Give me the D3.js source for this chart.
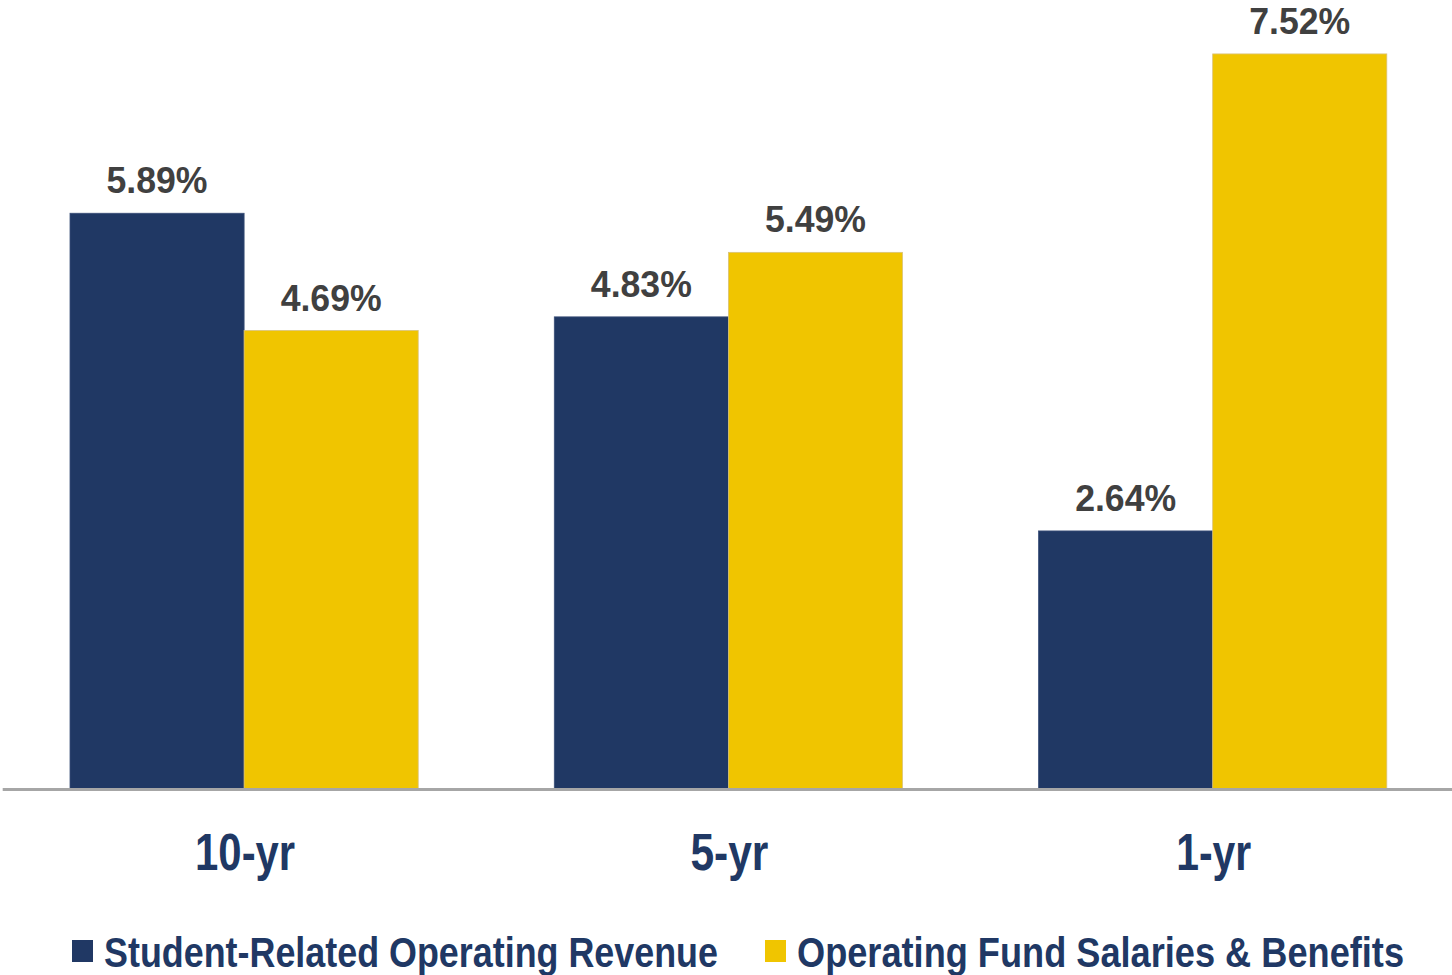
<!DOCTYPE html>
<html>
<head>
<meta charset="utf-8">
<script src="https://cdn.jsdelivr.net/npm/d3@7"></script>
<style>
  body { margin: 0; background: #fff; }
  svg { display: block; }
</style>
</head>
<body>
<div id="plot"></div>
<script>
let periods = ['10-yr', '5-yr', '1-yr'];
let seriesNames = ['Student-Related Operating Revenue', 'Operating Fund Salaries & Benefits'];
let revenue = [5.89, 4.83, 2.64];
let salaries = [4.69, 5.49, 7.52];

let data = periods.map((p, i) => ({period: p, values: [revenue[i], salaries[i]]}));

let svgWidth = 1452;
let svgHeight = 975;
let svg = d3.select('#plot')
            .append('svg')
                .attr('width', svgWidth)
                .attr('height', svgHeight);

let x = d3.scaleBand()
            .domain(periods)
            .range([2.2, 1454.6])
            .paddingInner(0.281)
            .paddingOuter(0.14);

let xSub = d3.scaleBand()
            .domain(seriesNames)
            .range([0, x.bandwidth()]);

let y = d3.scaleLinear()
            .domain([0, 8])
            .range([789, 7]);

let color = d3.scaleOrdinal()
    .domain(seriesNames)
    .range(['#203864', '#f0c500']);

// no condensed font installed: squeeze text to the width it has in the original
function squeeze(sel, widthOf) {
    sel.attr('textLength', widthOf)
       .attr('lengthAdjust', 'spacingAndGlyphs');
}

let groups = svg.selectAll('g.group')
                .data(data)
                .join('g')
                    .attr('class', 'group')
                    .attr('transform', d => `translate(${x(d.period)},0)`);

groups.selectAll('rect')
    .data(d => d.values.map((v, i) => ({name: seriesNames[i], value: v})))
    .join('rect')
        .attr('x', d => xSub(d.name))
        .attr('y', d => y(d.value))
        .attr('width', xSub.bandwidth())
        .attr('height', d => y(0) - y(d.value))
        .attr('fill', d => color(d.name))
        .attr('stroke', d => d.name === seriesNames[1] ? '#d9c27a' : '#3a4f78')
        .attr('stroke-width', 0.8);

groups.selectAll('text.value')
    .data(d => d.values.map((v, i) => ({name: seriesNames[i], value: v})))
    .join('text')
        .attr('class', 'value')
        .attr('x', d => xSub(d.name) + xSub.bandwidth() / 2)
        .attr('y', d => y(d.value) - 20)
        .attr('text-anchor', 'middle')
        .attr('font-family', '"Liberation Sans", Arial, sans-serif')
        .attr('font-weight', 'bold')
        .attr('font-size', 37)
        .attr('fill', '#404040')
        .text(d => d.value.toFixed(2) + '%')
        .call(squeeze, 101);

// baseline
let xAxis = d3.axisBottom(x).tickSize(0).tickPadding(0);
let axisG = svg.append('g')
    .attr('transform', `translate(0,${y(0)})`)
    .call(xAxis);
axisG.select('.domain')
    .attr('stroke', '#a6a6a6')
    .attr('stroke-width', 3);
let periodWidth = {'10-yr': 100, '5-yr': 78, '1-yr': 75};
axisG.selectAll('.tick text')
    .attr('x', 1)
    .attr('y', 81)
    .attr('dy', 0)
    .attr('font-family', '"Liberation Sans", Arial, sans-serif')
    .attr('font-weight', 'bold')
    .attr('font-size', 52)
    .attr('fill', '#203864')
    .call(squeeze, d => periodWidth[d]);

// legend
let legendX = [72, 765];
let legendWidth = [614, 607];
let legend = svg.append('g');
seriesNames.forEach((name, i) => {
    let g = legend.append('g').attr('transform', `translate(${legendX[i]},0)`);
    g.append('rect')
        .attr('x', 0)
        .attr('y', 940)
        .attr('width', 21)
        .attr('height', 22)
        .attr('fill', color(name));
    g.append('text')
        .attr('x', 32)
        .attr('y', 967)
        .attr('font-family', '"Liberation Sans", Arial, sans-serif')
        .attr('font-weight', 'bold')
        .attr('font-size', 43)
        .attr('fill', '#203864')
        .text(name)
        .call(squeeze, legendWidth[i]);
});
</script>
</body>
</html>
